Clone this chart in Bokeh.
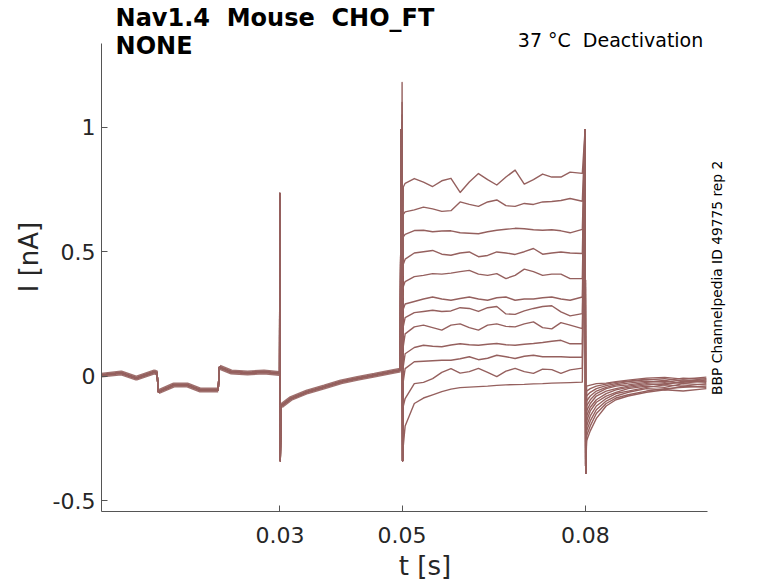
import math
from bokeh.plotting import figure
from bokeh.models import Range1d, FixedTicker, Label
from bokeh.embed import file_html
from bokeh.resources import INLINE

# holding / prepulse part, identical for every sweep (t in s, I in nA)
base_seg_t = [
    [0.0008, 0.004, 0.0065, 0.0095, 0.0099],
    [0.0101, 0.0126, 0.0149, 0.017, 0.0199],
    [0.0201, 0.022, 0.0247, 0.0274, 0.0299],
    [0.0302, 0.0304, 0.0318, 0.0345, 0.0373, 0.040, 0.0427, 0.0455, 0.0482, 0.0497],
]
base_seg_i = [
    [0.004, 0.013, -0.008, 0.017, 0.012],
    [-0.063, -0.036, -0.036, -0.056, -0.056],
    [0.036, 0.017, 0.013, 0.017, 0.011],
    [-0.12, -0.116, -0.090, -0.063, -0.043, -0.023, -0.009, 0.004, 0.017, 0.024],
]

# capacitive spikes
spk1_t = [0.02995, 0.03, 0.03006]
spk1_i = [0.011, 0.734, -0.34]
spk2_t = [0.04985, 0.04992, 0.05, 0.05008]
spk2_up = 0.99
spk2_mid = 0.02
spk2_low = -0.34
peak050 = [1.18, 1.10, 1.05, 1.02, 1.0, 0.99, 0.99, 0.99, 0.99, 0.99, 0.99, 0.99]
spk3_t = [0.07995, 0.08005]
spk3_i = [0.99, -0.39]

# test pulse
t_start = 0.0502
start_i = [0.76, 0.65, 0.56, 0.45, 0.36, 0.27, 0.20, 0.12, 0.04, -0.02, -0.12, -0.28]
t_test = [0.0505, 0.052, 0.0535, 0.055, 0.0565, 0.058, 0.0595, 0.061, 0.0625, 0.064,
          0.0655, 0.067, 0.0685, 0.070, 0.0715, 0.073, 0.0745, 0.076, 0.0775, 0.0795]
test_i = [
    [0.775, 0.794, 0.78, 0.762, 0.785, 0.795, 0.738, 0.78, 0.814, 0.79, 0.768, 0.80, 0.828, 0.772, 0.79, 0.812, 0.80, 0.80, 0.82, 0.815],
    [0.66, 0.668, 0.679, 0.672, 0.662, 0.665, 0.70, 0.69, 0.682, 0.70, 0.708, 0.685, 0.682, 0.694, 0.69, 0.70, 0.702, 0.706, 0.714, 0.703],
    [0.57, 0.585, 0.586, 0.58, 0.583, 0.584, 0.576, 0.574, 0.572, 0.58, 0.586, 0.59, 0.594, 0.592, 0.588, 0.586, 0.588, 0.584, 0.576, 0.59],
    [0.47, 0.495, 0.50, 0.505, 0.49, 0.486, 0.495, 0.499, 0.48, 0.485, 0.499, 0.495, 0.489, 0.50, 0.513, 0.49, 0.495, 0.499, 0.495, 0.493],
    [0.38, 0.40, 0.405, 0.412, 0.41, 0.414, 0.42, 0.425, 0.41, 0.405, 0.412, 0.392, 0.405, 0.43, 0.42, 0.405, 0.41, 0.41, 0.392, 0.392],
    [0.29, 0.30, 0.31, 0.318, 0.31, 0.305, 0.312, 0.318, 0.31, 0.305, 0.315, 0.318, 0.305, 0.31, 0.31, 0.315, 0.318, 0.31, 0.305, 0.318],
    [0.235, 0.255, 0.26, 0.265, 0.26, 0.262, 0.275, 0.272, 0.26, 0.275, 0.28, 0.25, 0.248, 0.262, 0.272, 0.28, 0.283, 0.258, 0.242, 0.251],
    [0.17, 0.198, 0.205, 0.195, 0.185, 0.205, 0.21, 0.195, 0.185, 0.205, 0.21, 0.20, 0.198, 0.21, 0.218, 0.195, 0.19, 0.215, 0.205, 0.191],
    [0.09, 0.115, 0.124, 0.12, 0.118, 0.125, 0.13, 0.126, 0.124, 0.128, 0.131, 0.126, 0.124, 0.128, 0.131, 0.135, 0.14, 0.144, 0.13, 0.13],
    [0.03, 0.058, 0.06, 0.062, 0.064, 0.064, 0.07, 0.078, 0.066, 0.072, 0.084, 0.078, 0.071, 0.08, 0.084, 0.078, 0.078, 0.078, 0.076, 0.076],
    [-0.09, -0.03, -0.025, -0.01, 0.015, 0.03, 0.012, 0.018, 0.031, 0.015, -0.002, 0.02, 0.031, 0.018, 0.011, 0.028, 0.026, 0.011, 0.025, 0.032],
    [-0.2, -0.11, -0.088, -0.075, -0.062, -0.052, -0.046, -0.044, -0.042, -0.04, -0.037, -0.035, -0.034, -0.033, -0.031, -0.03, -0.028, -0.027, -0.026, -0.024],
]

# tail after return to holding
t_tail = [0.0802, 0.0808, 0.0818, 0.0834, 0.085, 0.087, 0.09, 0.093, 0.096, 0.0998]
tail_i = [
    [-0.26, -0.22, -0.17, -0.12, -0.095, -0.08, -0.065, -0.055, -0.06, -0.05],
    [-0.24, -0.20, -0.15, -0.11, -0.088, -0.075, -0.06, -0.05, -0.045, -0.04],
    [-0.22, -0.18, -0.135, -0.10, -0.08, -0.065, -0.05, -0.055, -0.04, -0.045],
    [-0.20, -0.16, -0.12, -0.09, -0.07, -0.06, -0.045, -0.035, -0.04, -0.03],
    [-0.18, -0.14, -0.105, -0.08, -0.065, -0.05, -0.04, -0.045, -0.03, -0.035],
    [-0.16, -0.125, -0.095, -0.07, -0.055, -0.045, -0.035, -0.03, -0.025, -0.02],
    [-0.14, -0.11, -0.08, -0.06, -0.05, -0.04, -0.03, -0.035, -0.02, -0.025],
    [-0.12, -0.095, -0.07, -0.05, -0.04, -0.035, -0.025, -0.02, -0.03, -0.015],
    [-0.10, -0.08, -0.06, -0.045, -0.035, -0.028, -0.02, -0.025, -0.015, -0.02],
    [-0.08, -0.065, -0.05, -0.038, -0.03, -0.022, -0.015, -0.01, -0.02, -0.01],
    [-0.06, -0.05, -0.04, -0.032, -0.025, -0.02, -0.012, -0.018, -0.008, -0.012],
    [-0.04, -0.036, -0.03, -0.028, -0.022, -0.016, -0.008, -0.005, -0.012, -0.004],
]

x_ticks = [0.03, 0.05, 0.08]
x_tick_labels = ["0.03", "0.05", "0.08"]
y_ticks = [-0.5, 0, 0.5, 1]
y_tick_labels = ["-0.5", "0", "0.5", "1"]
x_lim = (0.0008, 0.1)
y_lim = (-0.544, 1.337)

col = "#95605e"
font = "DejaVu Sans"
gap = " \u00a0"  # double space that svg keeps

# build each sweep
xs, ys = [], []
for k in range(len(test_i)):
    t = (base_seg_t[0] + base_seg_t[1] + base_seg_t[2] + spk1_t + base_seg_t[3]
         + spk2_t + [t_start] + t_test + spk3_t + t_tail)
    i = (base_seg_i[0] + base_seg_i[1] + base_seg_i[2] + spk1_i + base_seg_i[3]
         + [spk2_up, spk2_mid, peak050[k], spk2_low] + [start_i[k]] + test_i[k]
         + spk3_i + tail_i[k])
    xs.append(t)
    ys.append(i)

# frame is made larger than the axes so that the texts around them are not clipped,
# the axis lines are cut back with bounds
p = figure(width=778, height=583, title=None, output_backend="svg", toolbar_location=None,
           x_range=Range1d(x_lim[0], 0.1067), y_range=Range1d(y_lim[0], 1.5015),
           min_border_left=101, min_border_right=30, min_border_top=2, min_border_bottom=71)
p.grid.visible = False
p.outline_line_color = None
p.background_fill_color = "white"

# overlapping noisy sweeps in the holding part look like a band
p.multi_line(xs=base_seg_t, ys=base_seg_i, line_color=col, line_width=5, line_alpha=0.9)
p.multi_line(xs=xs, ys=ys, line_color=col, line_width=1.4, line_join="round")

for ax in (p.xaxis, p.yaxis):
    ax.axis_line_color = "#555555"
    ax.major_tick_line_color = "#555555"
    ax.major_tick_in = 6
    ax.major_tick_out = 0
    ax.minor_tick_line_color = None
    ax.major_label_text_font = font
    ax.major_label_text_font_size = "22px"
    ax.major_label_text_color = "#262626"
    ax.axis_label_text_font = font
    ax.axis_label_text_font_size = "26px"
    ax.axis_label_text_font_style = "normal"
    ax.axis_label_text_color = "#262626"

p.xaxis.bounds = x_lim
p.yaxis.bounds = y_lim
p.xaxis.ticker = FixedTicker(ticks=x_ticks)
p.xaxis.major_label_overrides = dict(zip(x_ticks, x_tick_labels))
p.yaxis.ticker = FixedTicker(ticks=y_ticks)
p.yaxis.major_label_overrides = dict(zip(y_ticks, y_tick_labels))
p.xaxis.axis_label = "t [s]"
p.yaxis.axis_label = "I [nA]"
p.xaxis.major_label_standoff = 15
p.yaxis.major_label_standoff = 6
p.xaxis.axis_label_standoff = 5
p.yaxis.axis_label_standoff = 6

p.add_layout(Label(x=0.0031, y=1.4937, text="Nav1.4" + gap + "Mouse" + gap + "CHO_FT", text_font=font,
                   text_font_size="24px", text_font_style="bold", text_baseline="top",
                   text_color="black"))
p.add_layout(Label(x=0.0031, y=1.3814, text="NONE", text_font=font,
                   text_font_size="24px", text_font_style="bold", text_baseline="top",
                   text_color="black"))
p.add_layout(Label(x=0.0993, y=1.352, text="37 °C" + gap + "Deactivation", text_font=font,
                   text_font_size="19px", text_align="right", text_baseline="alphabetic",
                   text_color="black"))
p.add_layout(Label(x=0.1015, y=0.395, text="BBP Channelpedia ID 49775 rep 2", text_font=font,
                   text_font_size="13.8px", text_align="center", text_baseline="middle",
                   angle=math.pi / 2, text_color="black"))

open("out.html", "w").write(file_html(p, INLINE))
